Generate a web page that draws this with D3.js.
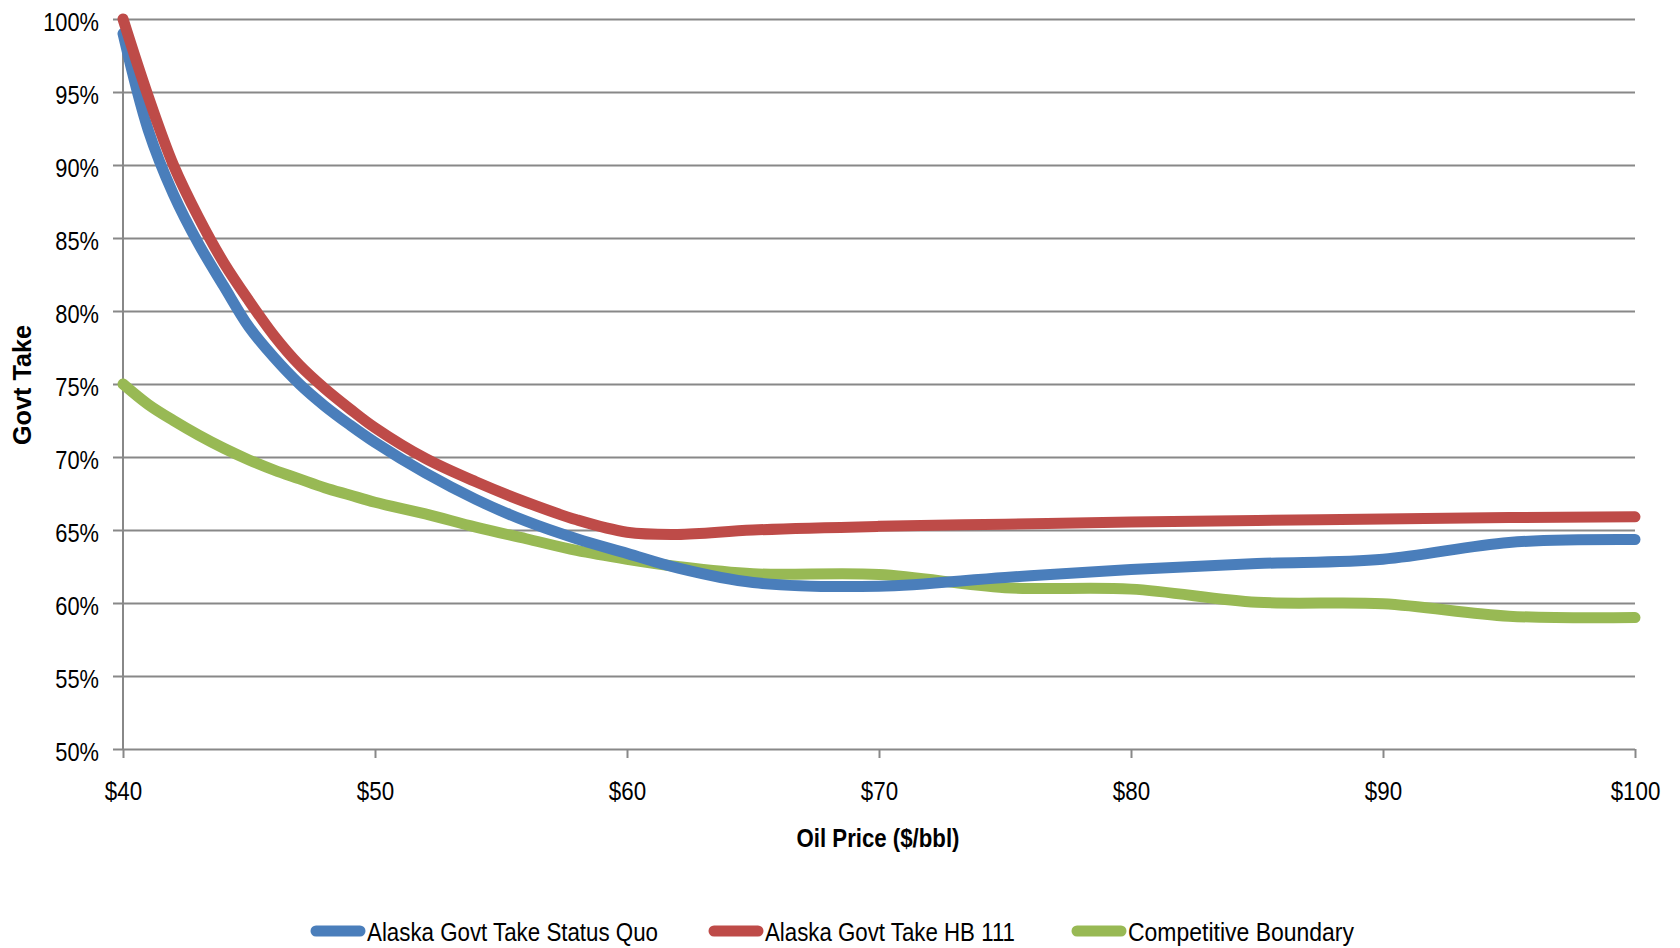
<!DOCTYPE html>
<html>
<head>
<meta charset="utf-8">
<script src="https://cdn.jsdelivr.net/npm/d3@7"></script>
<style>
  html, body { margin: 0; padding: 0; background: #fff; }
  svg { display: block; }
  text { font-family: "Liberation Sans", Arial, sans-serif; fill: #000; }
</style>
</head>
<body>
<svg id="chart" width="1680" height="948"></svg>
<script>
// Oil price points ($/bbl)
const prices = [40, 41, 42, 43, 44, 45, 46, 47, 48, 49, 50, 52, 54, 56, 58, 60, 62, 65, 70, 75, 80, 85, 90, 95, 100];

// Government take (%) at each price
const statusQuo = [99.0, 92.4, 88.0, 84.6, 81.7, 78.9, 76.8, 75.0, 73.5, 72.2, 71.0, 68.9, 67.1, 65.6, 64.4, 63.4, 62.4, 61.4, 61.15, 61.75, 62.3, 62.7, 63.0, 64.15, 64.35];
const hb111 = [100.0, 94.7, 90.0, 86.4, 83.3, 80.7, 78.3, 76.3, 74.7, 73.3, 72.0, 69.9, 68.3, 66.9, 65.7, 64.85, 64.7, 65.0, 65.25, 65.4, 65.55, 65.65, 65.75, 65.85, 65.9];
const boundary = [75.0, 73.6, 72.5, 71.5, 70.6, 69.8, 69.1, 68.5, 67.9, 67.4, 66.9, 66.1, 65.2, 64.4, 63.6, 63.0, 62.5, 62.0, 61.95, 61.05, 60.95, 60.05, 59.95, 59.1, 59.0];

const seriesNames = ["Alaska Govt Take Status Quo", "Alaska Govt Take HB 111", "Competitive Boundary"];
const seriesColors = ["#4A7EBB", "#BE4B48", "#98B954"];

const xTicks = [40, 50, 60, 70, 80, 90, 100];
const yTicks = [50, 55, 60, 65, 70, 75, 80, 85, 90, 95, 100];

const xTitle = "Oil Price ($/bbl)";
const yTitle = "Govt Take";

const svg = d3.select("#chart");
const plot = { left: 123, right: 1635, top: 19, bottom: 749 };

const x = d3.scaleLinear().domain([40, 100]).range([plot.left, plot.right]);
const y = d3.scaleLinear().domain([50, 100]).range([plot.bottom, plot.top]);

const gridColor = "#888888";

// Condense a label horizontally to a narrow face
function condense(sel, factor) {
  sel.each(function () {
    const w = this.getComputedTextLength();
    d3.select(this)
      .attr("textLength", w * factor)
      .attr("lengthAdjust", "spacingAndGlyphs");
  });
}

// Horizontal gridlines with outer tick marks
const yAxis = d3.axisLeft(y)
  .tickValues(yTicks)
  .tickSize(-(plot.right - plot.left))
  .tickSizeOuter(0)
  .tickFormat(d => d + "%");

const gy = svg.append("g").attr("transform", `translate(${plot.left},0)`).call(yAxis);
gy.select(".domain").remove();
gy.selectAll(".tick line")
  .attr("x1", -10)
  .attr("stroke", gridColor)
  .attr("stroke-width", 2);
gy.selectAll(".tick text")
  .attr("x", -24)
  .attr("dy", null)
  .attr("y", 11)
  .attr("font-size", 26)
  .attr("font-family", "Liberation Sans, Arial, sans-serif")
  .attr("fill", "#000")
  .call(condense, 0.84);

// Bottom axis with ticks
const xAxis = d3.axisBottom(x)
  .tickValues(xTicks)
  .tickSize(9)
  .tickSizeOuter(0)
  .tickFormat(d => "$" + d);

const gx = svg.append("g").attr("transform", `translate(0,${plot.bottom})`).call(xAxis);
gx.select(".domain").remove();
gx.selectAll(".tick line").attr("stroke", gridColor).attr("stroke-width", 2);
gx.selectAll(".tick text")
  .attr("dy", null)
  .attr("y", 51)
  .attr("font-size", 26)
  .attr("font-family", "Liberation Sans, Arial, sans-serif")
  .attr("fill", "#000")
  .call(condense, 0.86);

// Vertical axis line
svg.append("line")
  .attr("x1", plot.left).attr("x2", plot.left)
  .attr("y1", plot.top).attr("y2", plot.bottom)
  .attr("stroke", gridColor)
  .attr("stroke-width", 2);

// Series lines
const seriesValues = [statusQuo, hb111, boundary];
const line = d3.line()
  .x(d => x(d[0]))
  .y(d => y(d[1]))
  .curve(d3.curveCatmullRom.alpha(0.5));

const drawOrder = [2, 0, 1];
drawOrder.forEach(i => {
  const pts = prices.map((p, j) => [p, seriesValues[i][j]]);
  svg.append("path")
    .datum(pts)
    .attr("d", line)
    .attr("fill", "none")
    .attr("stroke", seriesColors[i])
    .attr("stroke-width", 11)
    .attr("stroke-linecap", "round")
    .attr("stroke-linejoin", "round");
});

// Axis titles
svg.append("text")
  .attr("x", 878)
  .attr("y", 847)
  .attr("text-anchor", "middle")
  .attr("font-size", 26)
  .attr("font-weight", "bold")
  .attr("textLength", 163)
  .attr("lengthAdjust", "spacingAndGlyphs")
  .text(xTitle);

svg.append("text")
  .attr("transform", "translate(31,385) rotate(-90)")
  .attr("text-anchor", "middle")
  .attr("font-size", 26)
  .attr("font-weight", "bold")
  .attr("textLength", 120)
  .attr("lengthAdjust", "spacingAndGlyphs")
  .text(yTitle);

// Legend
const legendX = [311, 709, 1072];
const legendW = [291, 250, 226];
const legendY = 931;
seriesNames.forEach((name, i) => {
  const g = svg.append("g");
  g.append("line")
    .attr("x1", legendX[i] + 5).attr("x2", legendX[i] + 49)
    .attr("y1", legendY).attr("y2", legendY)
    .attr("stroke", seriesColors[i])
    .attr("stroke-width", 11)
    .attr("stroke-linecap", "round");
  g.append("text")
    .attr("x", legendX[i] + 56)
    .attr("y", legendY + 10)
    .attr("font-size", 26)
    .attr("textLength", legendW[i])
    .attr("lengthAdjust", "spacingAndGlyphs")
    .text(name);
});
</script>
</body>
</html>
